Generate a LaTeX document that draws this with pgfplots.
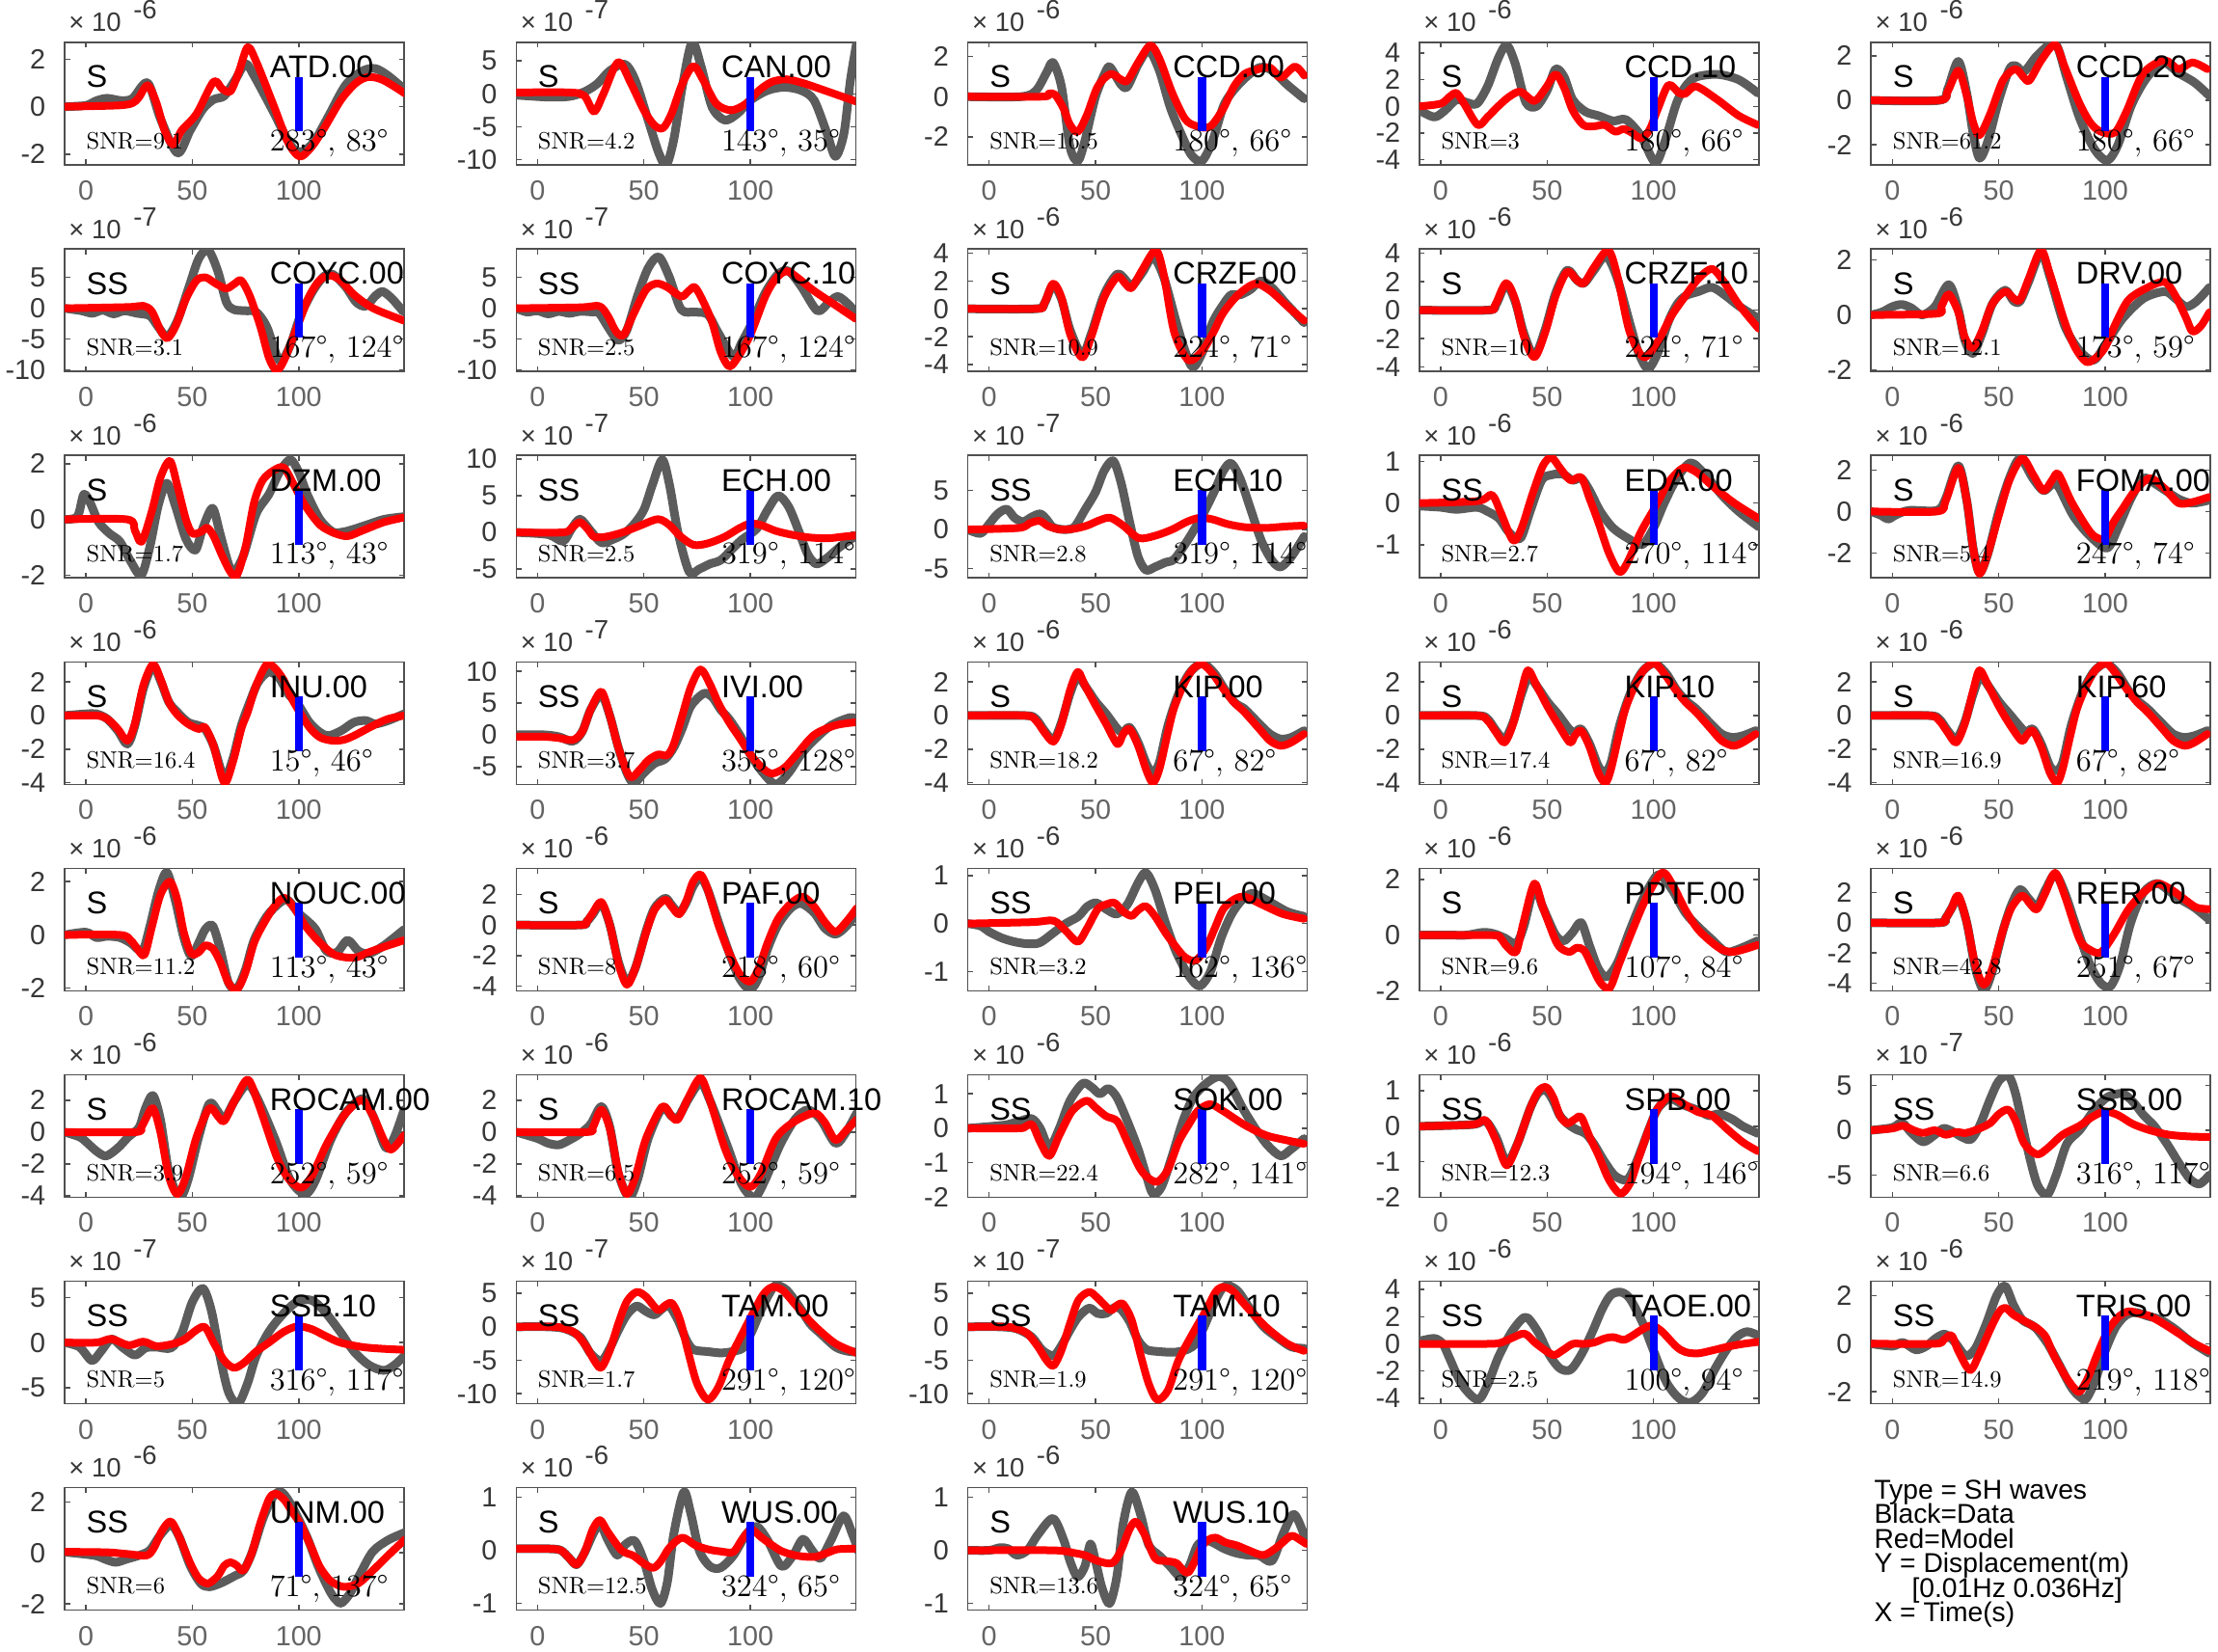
\documentclass[border=0pt]{standalone}
\usepackage{fontspec}
\usepackage{pgfplots}
\pgfplotsset{compat=1.18}
\newfontfamily\hv{Liberation Sans}
\definecolor{dgray}{RGB}{92,92,92}
\definecolor{axgray}{RGB}{80,80,80}
\definecolor{tkgray}{RGB}{55,55,55}
\definecolor{xtgray}{RGB}{100,100,100}

\pgfplotsset{
  panel/.style={
    scale only axis, width=140.8pt, height=50.8pt,
    xmin=-10, xmax=149.5, xtick={0,50,100},
    axis line style={axgray, line width=0.6pt},
    tick style={axgray, line width=0.6pt},
    major tick length=2.2pt, tick align=inside,
    xtick pos=both, ytick pos=both,
    clip mode=individual,
    ticklabel style={font=\hv\fontsize{11.5}{12}\selectfont},
    yticklabel style={xshift=-4.4pt, text=tkgray},
    xticklabel style={yshift=-3pt, text=xtgray},
    /pgf/number format/assume math mode=true,
  },
  gr/.style={dgray, line width=3.6pt, smooth, line join=round, line cap=round, no markers},
  rd/.style={red, line width=3.2pt, smooth, line join=round, line cap=round, no markers},
}

% phase, station, SNR, azimuth, distance
\newcommand\labs[5]{%
  \node[anchor=base west, inner sep=0, font=\hv\fontsize{13}{14}\selectfont] at (rel axis cs:0.063,0.63) {#1};
  \node[anchor=base west, inner sep=0, font=\hv\fontsize{13}{14}\selectfont] at (rel axis cs:0.603,0.71) {#2};
  \node[anchor=base west, inner sep=0, font=\fontsize{9.8}{10}\selectfont] at (rel axis cs:0.063,0.133) {SNR=#3};
  \node[anchor=base west, inner sep=0, font=\fontsize{13}{14}\selectfont] at (rel axis cs:0.603,0.112) {#4°, #5°};
}

% col, row, ymin, ymax, yticks, exponent, {labels}, gray data, red model
\newcommand\panel[9]{%
  \pgfmathsetmacro\px{26.8+187.32*#1}%
  \pgfmathsetmacro\py{-17.6-85.64*#2}%
  \pgfmathsetmacro\blo{#3+0.273*(#4-#3)}%
  \pgfmathsetmacro\bhi{#3+0.72*(#4-#3)}%
  \edef\bluebar{\noexpand\addplot[blue, line width=3.3pt, no markers] coordinates {(100,\blo) (100,\bhi)};}%
  \begin{axis}[panel, at={(\px pt,\py pt)}, anchor=north west, ymin=#3, ymax=#4, ytick={#5}]
    \addplot[gr] coordinates {#8};
    \addplot[rd] coordinates {#9};
    \bluebar
    \labs#7
    \node[anchor=base west, inner sep=0, xshift=1.6pt, yshift=4.4pt, text=tkgray,
          font=\hv\fontsize{11}{12}\selectfont] at (rel axis cs:0,1)
          {×\ 10\hspace{5pt}\raisebox{5.2pt}{-#6}};
  \end{axis}}

\begin{document}
\begin{tikzpicture}
\useasboundingbox (0,0) rectangle (920pt,-684.8pt);

% ---- row 1
\panel{0}{0}{-2.45}{2.7}{-2,0,2}{6}{{S}{ATD.00}{9.1}{283}{83}}
{(-10,0)(0,0.05)(5,0.25)(10,0.35)(17,0.25)(22,0.35)(29,1.0)(35,-0.5)(43,-1.95)(49,-1.0)(55,-0.1)(60,0.3)(65,0.45)(70,1.1)(75,1.8)(79,1.3)(88,-0.2)(96,-1.6)(101,-1.9)(107,-1.5)(114,-0.4)(122,0.9)(130,1.5)(136,1.6)(142,1.3)(150,0.7)}
{(-10,0)(15,0.05)(22,0.15)(25,0.4)(29,0.9)(33,0.2)(37,-1.0)(41,-1.6)(45,-1.0)(52,-0.3)(60,1.05)(64,0.75)(68,0.65)(72,1.5)(76,2.5)(80,1.9)(88,0.1)(95,-1.5)(100.5,-2.1)(106,-1.7)(112,-0.9)(120,0.3)(127,1.0)(133,1.25)(140,1.1)(150,0.55)}

\panel{1}{0}{-10.8}{7.8}{-10,-5,0,5}{7}{{S}{CAN.00}{4.2}{143}{35}}
{(-10,-0.2)(5,-0.5)(15,-0.4)(22,0.3)(28,1.5)(34,3.5)(41,4.5)(46,2)(52,-4)(57,-9)(60.5,-10.8)(64,-7)(68,1)(72.6,7.8)(77,4)(82,-2)(88,-4)(94,-3)(100,-1)(108,0.5)(116,1)(124,0.5)(130,-1)(136,-6)(140,-9.5)(144,-6)(147,2)(150,7.8)}
{(-10,0.2)(15,0.2)(22,-0.3)(26.6,-2.7)(31,0)(37.9,4.8)(44,1.5)(50,-2.5)(55,-4.8)(59,-5.2)(63,-3)(68,1.5)(73.3,4.2)(78,2)(84,-1.5)(91,-2.5)(98,-1.5)(104,0.5)(110,1.8)(117,2.2)(125,1.6)(135,0.5)(150,-1.2)}

\panel{2}{0}{-3.4}{2.7}{-2,0,2}{6}{{S}{CCD.00}{16.5}{180}{66}}
{(-10,0)(15,0)(22,0.3)(27,1.2)(30,1.7)(34,0.5)(38,-2.5)(41.7,-3.2)(45,-2.2)(50,0)(55,1.3)(57,1.45)(62,0.6)(65,0.5)(70,1.6)(75,2.3)(80,1.3)(85,-0.5)(90,-1.8)(95,-2.9)(100,-3.2)(105,-2.2)(110,-0.5)(114,0.2)(120,0.9)(127,1.45)(133,1.3)(140,0.6)(148,-0.1)}
{(-10,0)(25,0)(28,0.15)(31,0.1)(35,-0.6)(38,-1.4)(41.7,-1.75)(46,-0.9)(51,0.5)(57,1.13)(62,0.85)(65,0.8)(70,1.7)(75.7,2.55)(80,1.9)(86,0.2)(92,-1.1)(97,-1.45)(103.7,-1.5)(110,-0.6)(115,0.5)(120,1.13)(126,1.35)(132,1.45)(137,0.95)(143.7,1.5)(148,1.05)}

\panel{3}{0}{-4.4}{4.8}{-4,-2,0,2,4}{6}{{S}{CCD.10}{3}{180}{66}}
{(-10,-0.3)(-3,-0.8)(2,-0.3)(7.4,0.5)(12,0.3)(17,0.2)(22,1.5)(27,3.6)(31,4.6)(35,3.2)(40,0.3)(45,0)(50,1.2)(54,2.8)(58,2.2)(62,0.5)(68,-0.4)(74,-0.7)(81,-1.1)(87,-1.0)(94,-2.2)(100.7,-4.2)(105,-2.8)(110.7,0.2)(115,1.5)(120,2.2)(130,2.4)(140,2.0)(149,1.0)}
{(-10,0)(0,0.2)(4,0.7)(7.4,1.0)(11,0.2)(17.4,-1.4)(22,-0.8)(27,0)(32,0.7)(37.4,1.1)(44,0.4)(49,1.3)(54,2.4)(58,1.4)(62,-0.3)(67,-1.4)(72,-1.5)(77,-1.4)(82,-1.9)(86,-1.7)(90,-2.0)(94,-2.4)(98,-1.8)(102,-0.2)(107,1.6)(112,1.0)(115,0.95)(120,1.5)(130,0.5)(140,-0.7)(149,-1.4)}

\panel{4}{0}{-2.9}{2.6}{-2,0,2}{6}{{S}{CCD.20}{61.2}{180}{66}}
{(-10,0)(22,0)(26,0.5)(31,1.75)(35,0.3)(38,-1.5)(41,-2.6)(45,-1.8)(50,0)(55,1.4)(58,1.55)(62,1.3)(68,2.0)(76.5,2.55)(82,1.0)(88,-0.8)(95,-2.2)(101,-2.7)(106,-2.0)(112,-0.3)(118,0.8)(124,1.5)(128,1.7)(135,1.2)(142,0.8)(149,0.2)}
{(-10,0)(22,0)(26,0.4)(31,1.33)(35,0.2)(38,-1.0)(41,-1.56)(46,-0.6)(52,0.9)(57.8,1.4)(62,1.0)(64.5,0.9)(70,1.8)(76.5,2.5)(81,1.5)(87.8,-0.1)(93,-1.0)(97.8,-1.4)(104.5,-1.45)(110,-0.5)(117.8,1.2)(127.8,1.8)(134.5,1.4)(141,1.7)(148,1.4)}

% ---- row 2
\panel{0}{1}{-10.2}{9.6}{-10,-5,0,5}{7}{{SS}{COYC.00}{3.1}{167}{124}}
{(-10,0)(-2,-0.4)(3,-0.8)(8,-0.3)(13,-0.9)(18,-0.4)(24,-0.8)(30,-1.2)(34,-3)(38.2,-4.6)(43,-2)(48,3)(53,8)(57.5,9.4)(62,6)(66,1)(69.5,-0.2)(75,-0.4)(80,-0.6)(85,-3)(91,-8.5)(96,-6)(101,-1)(107,3)(112,5.2)(116,5.5)(122,3.5)(127,1.0)(131.5,0.35)(136,2)(139.5,2.7)(144,1.5)(149,-0.5)}
{(-10,0)(20,0.2)(27,0.4)(31,-0.5)(35,-3.5)(38.2,-4.85)(42,-3)(47,1.5)(52,4.5)(56.2,5.0)(61,4.0)(66,3.2)(70,4.0)(73,4.5)(77,2)(82,-3)(86,-8)(89.5,-10)(93,-8.5)(99.5,-2.8)(105,2)(110,4.6)(115,5.3)(120,4.4)(126,2.2)(135,0)(149.5,-2)}

\panel{1}{1}{-10.2}{9.6}{-10,-5,0,5}{7}{{SS}{COYC.10}{2.5}{167}{124}}
{(-10,0)(-5,-0.6)(0,-0.4)(5,-0.9)(10,-0.5)(15,-0.8)(20,-0.5)(26,-0.6)(29,-0.8)(34,-3.5)(38,-5.2)(42,-3.5)(47,2)(52,6.5)(57,8.3)(62,5)(67.5,-0.2)(74,-0.6)(80,-1)(85,-4)(92,-7.8)(96,-5.5)(101,-2.2)(107,2.5)(113,5.5)(118,6.0)(124,3.5)(131.5,-0.4)(137,1)(141,1.9)(145,1.0)(149.5,-0.6)}
{(-10,0)(20,0.15)(29,0.35)(33,-1.2)(37,-3.8)(40.5,-4.3)(45,-1)(51,3)(56,4.0)(61,3.4)(67.5,1.9)(71,2.8)(74,3.4)(78,1)(82,-2.2)(86,-7)(90,-9.4)(94,-8)(100,-4.3)(107,1.9)(112,4.8)(117,6.0)(122,5.0)(129.6,2.9)(140,0.5)(149.5,-1.7)}

\panel{2}{1}{-4.5}{4.3}{-4,-2,0,2,4}{6}{{S}{CRZF.00}{10.9}{224}{71}}
{(-10,0)(22,0)(26,0.4)(30,1.7)(34,0.7)(38,-1.5)(43.7,-3.3)(48,-1.8)(54,1.0)(60.3,2.5)(65,1.9)(67,1.6)(72,2.6)(77,3.7)(82,2.3)(88,-1.0)(92,-3.0)(95.7,-4.2)(100,-3.2)(105,-1.0)(110,0.3)(113.7,1.0)(118,1.0)(123,1.4)(127.7,2.0)(133,1.5)(140,0.3)(148,-1.0)}
{(-10,0)(22,0)(25.7,0.3)(30,1.8)(34,0.8)(38,-1.8)(43.7,-3.5)(48,-2)(54,0.8)(60.3,2.3)(64,1.8)(67,1.5)(72,2.8)(78.3,4.2)(82,2.5)(87,-1.7)(93.7,-3.7)(100.3,-3.0)(105,-1.8)(110,-0.3)(117,1.0)(125,1.8)(132,1.3)(140,0.2)(148,-0.85)}

\panel{3}{1}{-4.3}{4.3}{-4,-2,0,2,4}{6}{{S}{CRZF.10}{10}{224}{71}}
{(-10,0)(22,0)(26,0.4)(30.7,1.8)(35,0.6)(39,-1.6)(44,-3.2)(49,-1.4)(54,1.2)(59.4,2.8)(64,2.1)(67.4,1.9)(72,2.8)(77.7,3.8)(83,2.2)(89,-1.0)(93,-3.0)(97.4,-4.1)(102,-3.0)(107,-0.8)(111,0.4)(115,1.0)(121,1.3)(127.5,1.6)(134,1.0)(140,0.3)(149.4,-0.6)}
{(-10,0)(22,0)(25.4,0.3)(30.7,1.9)(35,0.7)(39,-1.8)(44,-3.3)(49,-1.6)(54,1.0)(59.4,2.7)(64,2.1)(67.4,1.9)(72,3.0)(78.7,4.2)(83,2.4)(88.7,-1.5)(95.4,-3.3)(102,-2.2)(108,-0.5)(114,0.8)(121,2.2)(127.5,2.9)(133,2.0)(140,0.4)(149.4,-1.3)}

\panel{4}{1}{-2.05}{2.4}{-2,0,2}{6}{{S}{DRV.00}{12.1}{173}{59}}
{(-10,0)(-5,0.1)(0,0.3)(4.5,0.38)(9,0.25)(14,0.0)(20,0.3)(26.5,1.1)(31,0.2)(34,-0.9)(37.8,-1.4)(42,-0.7)(47,0.4)(53,0.9)(57,0.5)(60,0.5)(64,1.2)(69.8,2.25)(74,1.4)(81,-0.4)(88,-1.3)(94.5,-1.65)(100,-1.1)(108,-0.15)(118,0.6)(128,0.85)(133,0.6)(138,0.3)(143,0.5)(149,1.0)}
{(-10,0)(21,0.05)(23,0.3)(26.5,0.75)(31,0.1)(34,-0.8)(37.8,-1.2)(42,-0.6)(47,0.4)(53,0.85)(57,0.6)(60,0.55)(64,1.3)(69.8,2.35)(74,1.5)(81,-0.26)(86,-1.2)(91,-1.7)(95,-1.6)(99.8,-1.2)(105,-0.3)(111,0.55)(120,1.0)(128,1.2)(133,0.7)(138,-0.1)(141,-0.6)(145,-0.4)(149,0.1)}

% ---- row 3
\panel{0}{2}{-2.1}{2.3}{-2,0,2}{6}{{S}{DZM.00}{1.7}{113}{43}}
{(-10,0)(-4,0.1)(-1,0.9)(2,0.6)(6,-0.1)(11,-0.5)(16,-0.8)(21,-1.5)(26,-2.0)(30,-1.0)(34,0.5)(38,1.3)(42,0.5)(47,-0.7)(51.5,-1.1)(55,-0.3)(59.5,0.4)(63,-0.5)(67,-1.6)(69.5,-1.9)(74,-1.3)(80,0.2)(86,0.9)(91,1.7)(96,2.15)(100,1.7)(104,0.9)(110,0.0)(116,-0.45)(121,-0.45)(126,-0.35)(132,-0.2)(140,0.0)(149.5,0.1)}
{(-10,0)(19.5,0)(23,-0.4)(26.2,-0.8)(31,0.3)(35,1.5)(39.5,2.1)(43,1.2)(47,0.0)(50,-0.5)(54,-0.45)(57,-0.3)(60,-0.6)(64,-1.3)(68,-1.9)(71,-2.0)(75,-1.0)(79,0.6)(83,1.4)(88,1.75)(93,1.86)(98,1.2)(103,0.5)(110,-0.2)(117,-0.5)(123,-0.6)(130,-0.4)(140,-0.1)(149.5,0.07)}

\panel{1}{2}{-6.2}{10.5}{-5,0,5,10}{7}{{SS}{ECH.00}{2.5}{319}{114}}
{(-10,0)(5,-0.3)(12,-1.2)(16,0.5)(20,1.8)(25,0.2)(30,-1.4)(35,-1.0)(40,-0.3)(45,1.0)(50,3.1)(54,6.5)(58.6,9.9)(62,6.5)(66,0)(71.3,-5.4)(76,-5.0)(81,-4.3)(86,-3.8)(91,-2.4)(96,-1.0)(103,0.5)(108,3.0)(113,5.0)(118,3.5)(123,0)(127,-3)(131,-4.3)(136,-3.5)(142,-2.0)(150,-0.4)}
{(-10,0)(12,0)(16,0.6)(20,1.4)(24,0.3)(26.6,-0.6)(32,-0.6)(40,0)(48,0.9)(56.6,1.8)(62,1.0)(67,-0.5)(73.3,-1.7)(80,-1.5)(88,-0.6)(95,0.6)(100,1.2)(105,1.0)(112,0.2)(120,-0.35)(128,-0.7)(136.6,-0.8)(143,-0.6)(150,-0.4)}

\panel{2}{2}{-6.2}{9.5}{-5,0,5}{7}{{SS}{ECH.10}{2.8}{319}{114}}
{(-10,0)(-4,-0.5)(0,0.7)(4,2.0)(8.3,2.6)(12,1.5)(16,1.0)(20,1.6)(24,2.0)(27,1.3)(30,0.3)(35,0.0)(40,0.3)(45,2.5)(50,4.8)(54,7.5)(58.3,8.8)(62,6)(66,1)(70,-3.5)(73.7,-5.2)(78,-4.8)(83,-4.2)(87,-3.8)(93,-1.5)(100,1.7)(106,5)(110,7.5)(113.7,8.5)(118,6.5)(123,2.5)(128,-1.5)(133,-4.0)(137,-4.8)(142,-3.5)(148,-0.9)}
{(-10,0)(14,0.2)(19,0.8)(23.7,1.1)(28,0.4)(33.7,0)(40,0.1)(46,0.5)(52,1.2)(57,1.5)(63,0.5)(70.3,-1.1)(78,-0.8)(86,0)(93,1.0)(99,1.5)(105,1.3)(112,0.7)(120,0.3)(130,0.2)(140,0.4)(148,0.5)}

\panel{3}{2}{-1.8}{1.15}{-1,0,1}{6}{{SS}{EDA.00}{2.7}{270}{114}}
{(-10,-0.07)(0,-0.1)(7.4,-0.15)(17,-0.1)(22,-0.2)(27.4,-0.37)(32,-0.7)(37.4,-0.85)(42,-0.2)(47.4,0.55)(52,0.68)(57.4,0.7)(62,0.55)(66,0.6)(70,0.3)(75,-0.2)(81,-0.6)(88,-0.85)(94.7,-1.0)(100,-0.6)(105,0.0)(111,0.6)(117.4,0.97)(124,0.7)(132,0.2)(140,-0.2)(149.4,-0.57)}
{(-10,0)(17.4,0.05)(24,0.2)(28,-0.2)(34,-0.9)(38,-0.6)(43,0.2)(48,0.9)(52,1.1)(56,0.85)(61,0.55)(66,0.62)(70,0.1)(74,-0.45)(79,-1.2)(84,-1.66)(88,-1.4)(94,-0.7)(101,-0.07)(107,0.5)(114,0.85)(120,0.75)(128,0.4)(138,0.0)(149.4,-0.37)}

\panel{4}{2}{-3.2}{2.7}{-2,0,2}{6}{{S}{FOMA.00}{5.4}{247}{74}}
{(-10,0)(-5,-0.2)(-2,-0.37)(2,-0.15)(8,0.05)(21,0.05)(25,0.6)(31,2.2)(35,0.5)(38,-1.8)(41,-2.95)(45,-2.0)(50,0)(55,1.6)(60,2.55)(66,1.6)(71,1.0)(75,1.3)(78,1.2)(85,-0.2)(93,-1.2)(101,-1.76)(106,-0.8)(112,0.6)(118,1.6)(124,1.3)(134.5,0.6)(141,0.4)(149,0.55)}
{(-10,0)(21,0)(25,0.5)(31,2.1)(35,0.5)(38,-1.8)(41,-3.0)(45,-2.0)(50,-0.2)(55,1.5)(61,2.55)(66,1.8)(71,1.0)(75,1.5)(78,1.8)(84,0.5)(91,-0.7)(95,-1.2)(99.8,-1.3)(104,-0.5)(108,0.1)(114,1.0)(121,1.6)(128,1.1)(134.5,0.4)(141,0.45)(149,0.7)}

% ---- row 4
\panel{0}{3}{-4.1}{3.2}{-4,-2,0,2}{6}{{S}{INU.00}{16.4}{15}{46}}
{(-10,0)(0,0.1)(5,0.1)(10,-0.2)(15,-0.9)(19.5,-1.7)(23,-0.6)(27,1.6)(31.5,2.95)(35,2.1)(39,0.8)(43,0.2)(48,-0.4)(53,-0.6)(56,-0.8)(60,-1.8)(65,-3.7)(69,-2.6)(73,-0.6)(77,0.8)(81,2.0)(86,2.6)(91,2.2)(95,1.3)(99.5,0.7)(105,-0.4)(110,-1.0)(114,-1.2)(120,-0.9)(126,-0.4)(131.5,-0.3)(136,-0.5)(142,-0.3)(149.5,0.1)}
{(-10,0)(5,0)(10,-0.2)(15,-0.8)(19.5,-1.5)(23,-0.5)(27,1.8)(31.5,3.05)(35,2.2)(39,0.8)(43,0.05)(48,-0.5)(53,-0.8)(56,-0.7)(60,-1.8)(65,-4.0)(69,-2.8)(73,-0.8)(76,0.2)(80,1.8)(85,3.05)(89,2.8)(93,2.1)(96,1.2)(99.5,0.4)(105,-0.7)(110,-1.3)(116,-1.5)(121,-1.45)(126,-1.2)(135,-0.6)(142,-0.2)(149.5,0)}

\panel{1}{3}{-7.8}{11.5}{-5,0,5,10}{7}{{SS}{IVI.00}{3.7}{355}{128}}
{(-10,0)(3,0)(10,-0.3)(16.6,-1.0)(21,0.5)(25,4)(30,6.3)(34,3)(38,-2)(42,-6)(45.3,-7.6)(50,-6)(55,-4.5)(60,-3.8)(64,-2)(68,1)(72,4.5)(78,6.5)(82,6)(86,4)(90,2.5)(95,0)(100,-3.1)(106,-6)(112,-7.8)(118,-6)(124,-3)(130,-0.8)(138,1.5)(146.6,2.7)(150,2.5)}
{(-10,-0.3)(3,-0.3)(10,-0.5)(16.6,-0.8)(21,0.5)(25,4)(30,6.8)(34,3)(38,-2)(43.3,-6.6)(48,-5.5)(52,-4)(56.6,-3.1)(61,-3.2)(64,-1.5)(68,3)(72,7.5)(76.6,10.3)(81,8)(85,5)(90,2.0)(95,-0.5)(100,-3.1)(105,-5)(110,-6.1)(116,-5.2)(122,-3.0)(130,0)(140,1.5)(150,2.0)}

\panel{2}{3}{-4.1}{3.2}{-4,-2,0,2}{6}{{S}{KIP.00}{18.2}{67}{82}}
{(-10,0)(17,0)(22,-0.2)(26,-0.9)(30.3,-1.45)(34,-0.4)(38,1.3)(41.7,2.3)(46,1.6)(50.3,0.8)(55,0.1)(60.3,-0.8)(63,-1.0)(66,-0.7)(70,-1.6)(74,-2.9)(77,-3.4)(80,-2.8)(84,-0.6)(89,1.3)(94,2.5)(98,3.0)(101,3.1)(106,2.5)(111,1.5)(116,0.7)(120,0.4)(127,-0.5)(132,-1.1)(137,-1.4)(142,-1.3)(148,-0.9)}
{(-10,0)(17,0)(22,-0.3)(26,-1.0)(30.3,-1.55)(34,-0.5)(38,1.5)(41.7,2.6)(45,1.8)(50.3,0.55)(55,-0.5)(60.3,-1.7)(63,-1.1)(66,-0.8)(70,-1.8)(74,-3.3)(77,-4.0)(80,-3.2)(84,-1.0)(87,0.5)(92,2.0)(96,2.8)(100.3,3.05)(105,2.5)(110,1.6)(115,0.8)(120,0.2)(127,-0.8)(132,-1.5)(137,-1.8)(142,-1.6)(148,-1.1)}

\panel{3}{3}{-4.1}{3.2}{-4,-2,0,2}{6}{{S}{KIP.10}{17.4}{67}{82}}
{(-10,0)(17,0)(22,-0.2)(26,-0.9)(30,-1.4)(34,-0.4)(38,1.3)(41.5,2.3)(46,1.6)(50.3,0.8)(55,0.1)(60.3,-0.8)(63,-1.0)(66,-0.8)(70,-1.7)(74,-3.0)(77,-3.4)(80,-2.8)(84,-0.6)(89,1.3)(94,2.5)(98,3.0)(101,3.1)(106,2.5)(111,1.5)(116,0.8)(120,0.4)(127,-0.5)(132,-1.1)(137,-1.3)(142,-1.2)(148,-0.9)}
{(-10,0)(17,0)(22,-0.3)(26,-1.0)(30,-1.6)(34,-0.5)(38,1.5)(41,2.7)(45,1.8)(50.3,0.5)(55,-0.5)(60.7,-1.6)(63,-1.2)(66,-0.9)(70,-1.9)(74,-3.4)(77.4,-4.0)(80,-3.2)(84,-1.0)(87,0.5)(92,2.0)(96,2.8)(100.7,3.1)(105,2.5)(110,1.6)(115,0.8)(120,0.2)(127,-0.8)(132,-1.5)(137.4,-1.8)(142,-1.6)(148,-1.1)}

\panel{4}{3}{-4.1}{3.2}{-4,-2,0,2}{6}{{S}{KIP.60}{16.9}{67}{82}}
{(-10,0)(17,0)(22,-0.2)(26,-0.9)(30,-1.4)(34,-0.4)(38,1.3)(41.5,2.3)(46,1.6)(50.3,0.8)(55,0.1)(60.3,-0.7)(63,-1.0)(66,-0.8)(70,-1.7)(74,-3.0)(77,-3.3)(80,-2.8)(84,-0.6)(89,1.3)(94,2.5)(98,3.0)(101,3.1)(106,2.5)(111,1.5)(116,0.8)(120,0.4)(127,-0.5)(132,-1.1)(137,-1.3)(142,-1.2)(148,-0.9)}
{(-10,0)(17,0)(22,-0.3)(26,-1.0)(30,-1.6)(34,-0.5)(38,1.5)(41,2.7)(45,1.8)(50.3,0.5)(55,-0.5)(60.7,-1.5)(63,-1.2)(66,-0.9)(70,-1.9)(74,-3.4)(77.4,-4.0)(80,-3.2)(84,-1.0)(87,0.5)(92,2.0)(96,2.8)(100.7,3.1)(105,2.5)(110,1.6)(115,0.8)(120,0.2)(127,-0.8)(132,-1.5)(137.4,-1.8)(142,-1.6)(148,-1.1)}

% ---- row 5
\panel{0}{4}{-2.1}{2.5}{-2,0,2}{6}{{S}{NOUC.00}{11.2}{113}{43}}
{(-10,0)(0,0.1)(5,-0.1)(10,-0.05)(16,-0.1)(21,-0.3)(26.5,-0.6)(30,0.3)(34,1.6)(38,2.35)(42,1.3)(46,-0.1)(49.5,-0.8)(53,-0.3)(56,0.2)(59.5,0.35)(63,-0.5)(67,-1.8)(71,-2.0)(75,-1.3)(79,-0.2)(85,0.7)(91,1.2)(95,1.3)(100,0.8)(103,0.6)(108,0.2)(113,-0.6)(118,-0.65)(123,-0.2)(128,-0.6)(133,-0.7)(140,-0.4)(149.5,0.2)}
{(-10,0)(16,0)(21,-0.2)(24,-0.5)(27.5,-0.75)(31,0.3)(35,1.5)(39.5,2.0)(43,1.3)(46,0.1)(49.5,-0.7)(53,-0.65)(56,-0.4)(59.5,-0.5)(63,-1.0)(67,-1.8)(71,-2.05)(75,-1.4)(79,-0.3)(83,0.35)(88,1.0)(93,1.4)(98,1.0)(103,0.35)(110,-0.3)(117,-0.75)(126,-0.86)(133,-0.65)(140,-0.45)(149.5,-0.2)}

\panel{1}{4}{-4.3}{3.7}{-4,-2,0,2}{6}{{S}{PAF.00}{8}{218}{60}}
{(-10,0)(20,0)(23,0.2)(26,0.7)(30,1.4)(34,0)(38,-2.4)(42,-3.7)(46,-2.8)(51,-0.4)(55,1.1)(60,1.75)(63,1.3)(66.6,0.8)(70,1.5)(73,2.5)(76.6,3.1)(80,2.3)(85,0.2)(90,-1.8)(95,-3.5)(100,-4.2)(104,-3.4)(108,-1.6)(113,0)(119,1.1)(124,1.4)(130,0.8)(135,-0.2)(140,-0.6)(145,-0.1)(150,0.8)}
{(-10,0)(20,0)(23,0.2)(26,0.8)(30,1.5)(34,0)(38,-2.5)(42,-3.9)(46,-2.8)(51,-0.5)(55,1.0)(60,1.65)(63,1.2)(66.6,0.7)(70,1.6)(73,2.8)(76.6,3.3)(80,2.3)(85,0)(90,-1.8)(95,-3.2)(100,-3.7)(104,-2.8)(108,-1.2)(113,0.4)(119,1.4)(124.6,1.85)(130,1.2)(135,0.2)(140,-0.45)(145,0.2)(150,1.1)}

\panel{2}{4}{-1.4}{1.15}{-1,0,1}{6}{{SS}{PEL.00}{3.2}{162}{136}}
{(-10,0)(-4,-0.05)(0,-0.17)(6,-0.3)(12,-0.38)(18,-0.42)(23.7,-0.4)(30,-0.2)(36,0.0)(42,0.15)(46,0.35)(50.3,0.43)(55,0.3)(60,0.2)(65,0.4)(70,0.85)(73.7,1.06)(78,0.7)(83,0)(88,-0.6)(94,-1.1)(99,-1.3)(104,-1.0)(109,-0.3)(114,0.2)(119,0.5)(123.7,0.63)(130,0.5)(140,0.25)(148,0.15)}
{(-10,0)(20,0.03)(30.3,0.06)(36,-0.15)(41.7,-0.38)(46,-0.1)(51,0.3)(55,0.4)(59,0.43)(63,0.25)(67,0.16)(70,0.28)(73.7,0.36)(78,0.15)(83,-0.2)(87,-0.44)(92,-0.7)(97,-0.77)(102,-0.5)(106,-0.1)(110,0.3)(115,0.5)(120,0.56)(128,0.4)(138,0.2)(148,0.1)}

\panel{3}{4}{-2.0}{2.4}{-2,0,2}{6}{{S}{PPTF.00}{9.6}{107}{84}}
{(-10,0)(5,0.0)(12,0.0)(20,0.1)(25,0.05)(30,-0.1)(35.4,-0.3)(39,0.3)(44,1.7)(48,1.0)(54,0.0)(58,-0.2)(62,0.1)(66,0.45)(70,-0.4)(74,-1.2)(78,-1.5)(83,-1.0)(89,0.2)(95,1.3)(101,2.1)(104,2.1)(109,1.6)(115,0.8)(121,0.3)(128,-0.2)(134,-0.6)(140,-0.5)(149,-0.2)}
{(-10,0)(24,0)(28,-0.1)(31,-0.4)(35.4,-0.6)(39,0.5)(44,1.85)(48,1.0)(54,-0.2)(57,-0.5)(60.7,-0.6)(64,-0.45)(67.4,-0.55)(71,-1.1)(75,-1.7)(79.4,-1.9)(84,-1.0)(91,0.35)(97,1.4)(104,2.25)(109,1.8)(115,0.9)(121,0.2)(128,-0.3)(133,-0.55)(137.4,-0.6)(143,-0.5)(149,-0.35)}

\panel{4}{4}{-4.5}{3.6}{-4,-2,0,2}{6}{{S}{RER.00}{42.8}{251}{67}}
{(-10,0)(22,0)(25,0.3)(28,1.0)(31,1.7)(35,0)(39,-3.0)(43,-4.45)(47,-3.2)(52,-0.5)(56,1.2)(60,2.2)(64,1.6)(68,1.1)(72,2.2)(76.5,3.2)(81,2.0)(87,-0.5)(93,-2.8)(98,-4.0)(102.5,-4.2)(107,-2.8)(112,0)(118,2.0)(124.5,2.6)(131,2.0)(136,1.5)(142,1.0)(149,0.2)}
{(-10,0)(22,0)(25,0.3)(28,1.0)(31,1.8)(35,0)(39,-2.8)(43,-4.1)(47,-3.0)(52,-0.5)(56,1.0)(61,1.8)(65,1.2)(68,0.9)(72,2.0)(76.5,3.3)(81,1.8)(88,-1.1)(93,-1.8)(98,-1.95)(104,-0.8)(111,0.9)(118,2.0)(124.5,2.6)(131,2.2)(137.8,1.5)(143,1.0)(149,0.9)}

% ---- row 6
\panel{0}{5}{-4.1}{3.6}{-4,-2,0,2}{6}{{S}{ROCAM.00}{3.9}{252}{59}}
{(-10,0)(-3,-0.3)(0,-0.6)(5,-1.2)(9.5,-1.5)(15,-1.0)(20,-0.3)(25,0.3)(28,1.5)(31.5,2.3)(35,0.8)(39,-2.5)(44,-4.1)(48,-3.0)(53,-0.3)(58,1.8)(62,1.3)(65,0.8)(70,2.0)(76,3.0)(81,2.0)(89,-0.5)(96,-3.0)(103,-3.9)(108,-3.0)(115,-0.5)(122,1.2)(130,2.1)(135,1.0)(141,-1.0)(145,-0.3)(149.5,1.4)}
{(-10,0)(23,0)(26,0.3)(28,0.8)(31.5,1.5)(35,0)(39,-2.8)(43,-3.9)(47,-2.8)(52,-0.3)(58,1.5)(62,1.0)(65,0.7)(70,2.0)(76,3.3)(81,1.8)(89.5,-1.5)(95,-2.9)(101,-3.5)(106,-2.8)(113,-0.8)(120,0.8)(125,1.6)(130,2.0)(135,1.0)(140,-0.5)(143,-1.1)(146,-0.8)(149.5,-0.2)}

\panel{1}{5}{-4.1}{3.6}{-4,-2,0,2}{6}{{S}{ROCAM.10}{6.5}{252}{59}}
{(-10,0)(0,-0.4)(5,-0.7)(10,-0.8)(15,-0.5)(20,-0.1)(25,0.5)(30,1.6)(34,0.3)(38,-2.6)(43,-4.1)(47,-3.0)(52,-0.4)(58.6,1.5)(63,1.0)(66,0.9)(71,2.1)(76.6,3.1)(81,2.0)(89,-0.8)(96,-3.3)(102,-4.1)(107,-3.0)(114,-0.8)(121,0.8)(127,1.4)(133,0.8)(140,-0.7)(145,0.0)(150,1.2)}
{(-10,0)(23,0)(26,0.3)(30,1.4)(34,0.2)(38,-2.5)(42,-3.9)(46,-2.8)(51,-0.4)(58.6,1.6)(63,1.0)(66,0.8)(71,2.2)(76.6,3.4)(81,2.0)(88,-1.0)(94,-2.7)(100,-3.45)(105,-2.6)(112,-0.4)(120,0.6)(130,1.2)(135,0.6)(140,-0.5)(145,0.1)(150,0.8)}

\panel{2}{5}{-2.0}{1.55}{-2,-1,0,1}{6}{{SS}{SOK.00}{22.4}{282}{141}}
{(-10,0)(0,0.05)(8,0.1)(14,0.2)(20,0.28)(24,0)(28.3,-0.55)(33,0.0)(38,0.8)(44,1.3)(48,1.2)(52,1.0)(56,1.15)(60,0.9)(65,0.2)(70,-0.6)(74,-1.4)(77,-1.9)(81,-1.7)(86,-0.8)(91,0.2)(96,0.9)(102,1.3)(108,1.5)(113,1.3)(119,0.6)(125,0.0)(131,-0.5)(137,-0.8)(142,-0.6)(148,-0.3)}
{(-10,0)(14,0)(17,0.05)(20.3,0.1)(24,-0.4)(28.3,-0.8)(33,-0.2)(39,0.5)(45.7,0.8)(50,0.6)(55,0.35)(60.3,0.2)(65,-0.4)(70.3,-1.1)(74,-1.4)(79,-1.55)(84,-1.2)(89,-0.4)(93.7,0.1)(98,0.5)(103.7,0.7)(110,0.5)(120,0.1)(130,-0.2)(140,-0.35)(148,-0.45)}

\panel{3}{5}{-2.0}{1.45}{-2,-1,0,1}{6}{{SS}{SPB.00}{12.3}{194}{146}}
{(-10,0)(15,0.05)(21,0.15)(26,-0.3)(31,-1.0)(36,-0.5)(42,0.5)(46,0.95)(49.7,1.0)(53,0.7)(56,0.3)(60,0.05)(64,-0.1)(68,-0.2)(72,-0.5)(77,-1.0)(82,-1.4)(87.7,-1.5)(92,-1.0)(97.7,-0.1)(102,0.5)(107.7,0.78)(114,0.6)(121,0.45)(126,0.3)(131,0.35)(137,0.2)(142,0.0)(149,-0.2)}
{(-10,0)(15,0.05)(21,0.17)(26,-0.4)(31,-1.1)(36,-0.5)(42,0.5)(46,1.0)(49.7,1.1)(53,0.8)(56,0.3)(59.4,0.08)(63,0.2)(66,0.26)(70,-0.3)(74,-0.8)(79,-1.5)(84.4,-1.9)(89,-1.6)(93,-0.9)(97.7,-0.1)(102,0.5)(107.7,0.85)(115,0.6)(121,0.4)(127.4,0.3)(135,-0.1)(142,-0.45)(149,-0.7)}

\panel{4}{5}{-7.5}{6.2}{-5,0,5}{7}{{SS}{SSB.00}{6.6}{316}{117}}
{(-10,0)(0,0.3)(4.5,0.85)(9,-0.3)(14.5,-1.3)(20,-0.5)(24,0.2)(28,-0.1)(33,-0.8)(37,-1.0)(41,0.5)(46,3.5)(50,5.5)(54.5,6.1)(58,4)(63,-1.5)(68,-6)(72.8,-7.2)(77,-5)(82,-1.5)(88,0)(95,2.3)(101,3.7)(108,4.1)(113,3.2)(118,1.7)(123,0.5)(129,-1.5)(135,-3.8)(140,-5.5)(144.5,-6.0)(149,-5.0)}
{(-10,0)(0,0.2)(5,0.5)(10,0)(14.5,-0.3)(20,0)(25,-0.5)(30,-0.2)(34.5,-0.3)(40,0.1)(46,0.8)(50,1.8)(54.5,2.3)(58,1)(62,-1.5)(68,-2.7)(73,-2.0)(80,-0.5)(88,0.5)(94,1.5)(99.8,2.1)(106,1.7)(113,0.7)(121,0)(130,-0.5)(140,-0.7)(149,-0.75)}

% ---- row 7
\panel{0}{6}{-6.8}{6.8}{-5,0,5}{7}{{SS}{SSB.10}{5}{316}{117}}
{(-10,0)(-3,-0.5)(2.8,-2.0)(7,-1.0)(12,0.4)(17,-0.5)(23,-1.4)(28,-0.6)(33,-0.5)(40,-0.6)(45,1.0)(50,4.5)(55,6.0)(59,3.5)(63,-1.5)(67,-5.5)(71.5,-6.8)(76,-4.5)(80,-1.5)(86,1.2)(92,3.0)(99,4.5)(106,4.7)(112,3.5)(119.5,1.2)(126,-1.0)(133,-2.5)(140,-3.1)(145,-2.5)(149.5,-1.5)}
{(-10,0)(5,0)(12,0.4)(20,-0.3)(27,0.1)(33,-0.4)(40,-0.2)(46,0.3)(52,1.4)(56,1.7)(60,0)(65,-2.0)(69.5,-2.8)(74,-2.3)(80,-1.0)(86,0.0)(93,1.2)(99.5,1.8)(106,1.5)(112,0.8)(119.5,0)(130,-0.5)(140,-0.7)(149.5,-0.8)}

\panel{1}{6}{-11.5}{6.8}{-10,-5,0,5}{7}{{SS}{TAM.00}{1.7}{291}{120}}
{(-10,0)(5,0)(13,-0.3)(20,-1.5)(25,-4)(30,-5.1)(34,-3.2)(38,-0.5)(42,1.8)(46.6,3.1)(51,2.3)(55,1.8)(59,2.8)(62,3.1)(66,1.0)(70,-2.0)(73.3,-3.4)(80,-3.7)(86.6,-3.9)(93,-3.6)(97,-3.0)(101,-0.5)(105,2.5)(109,5.0)(112,6.2)(117,5.5)(123,3.0)(128,0.5)(133,-1.0)(140,-3.0)(145,-3.6)(150,-3.8)}
{(-10,0)(8,0)(13,-0.3)(18,-1.0)(23,-3)(27,-5.2)(30,-6.1)(34,-3.5)(38,0.5)(42,3.8)(46.6,5.2)(51,4.5)(56.6,2.5)(60,3.2)(63.3,3.5)(67,1)(71,-4)(75,-8.5)(80,-10.9)(85,-9)(90,-5)(96.6,-0.8)(102,2.5)(106,4.8)(110,5.9)(115,5.5)(122,3)(130,0.2)(140,-2.5)(150,-3.9)}

\panel{2}{6}{-11.5}{6.8}{-10,-5,0,5}{7}{{SS}{TAM.10}{1.9}{291}{120}}
{(-10,0)(5,0)(13,-0.3)(20,-1.5)(25,-3.5)(30.3,-4.3)(34,-2.8)(38,-0.5)(42,1.5)(47,2.8)(51,2.0)(55,2.0)(59,2.9)(62,2.6)(66,0.8)(70,-2.0)(74,-3.4)(80,-3.7)(87,-3.8)(93,-3.4)(97,-2.5)(101,0)(105,3)(109,5.5)(112,6.2)(117,5.3)(123,2.5)(129,0)(135,-1.5)(142,-3)(148,-3.2)}
{(-10,0)(8,0)(13,-0.3)(18,-1.0)(23,-3)(27,-5.0)(30.3,-5.8)(34,-3.5)(38,0.5)(42,4)(47,5.2)(51,4.3)(57,2.5)(60,3.2)(63,3.4)(67,1)(71,-4)(75,-8.5)(79,-10.9)(84,-9.5)(89,-5)(96,-0.8)(102,2.5)(106,5)(109,5.9)(114,5.5)(121,3)(130,0)(140,-2.5)(148,-3.6)}

\panel{3}{6}{-4.4}{4.6}{-4,-2,0,2,4}{6}{{SS}{TAOE.00}{2.5}{100}{94}}
{(-10,0.2)(-3,0.4)(1,0.0)(4,-1.0)(10,-3.0)(17.4,-4.1)(22,-3.0)(27,-1.0)(33,0.8)(38,1.8)(41,1.9)(46,0.8)(51,-0.8)(56,-1.8)(61,-1.9)(66,-0.8)(71,0.8)(76,2.6)(80,3.6)(84.7,3.8)(89,3.3)(95,1.5)(100,-0.5)(106,-2.8)(112,-4.0)(117.4,-4.3)(123,-3.6)(129,-1.8)(134,-0.5)(139,0.5)(144,0.9)(149.4,0.6)}
{(-10,0)(20,0)(27.4,0.05)(33,0.4)(39.4,0.75)(45,0.0)(52.7,-0.8)(57,-0.5)(62,0.0)(67,0.0)(72,0.1)(77,0.4)(81,0.5)(86,0.3)(90,0.6)(95,1.1)(99.4,1.35)(104,0.9)(110.7,-0.2)(115,-0.6)(120.7,-0.7)(127,-0.5)(135,-0.2)(142,0.0)(149.4,0.15)}

\panel{4}{6}{-2.5}{2.6}{-2,0,2}{6}{{SS}{TRIS.00}{14.9}{219}{118}}
{(-10,0)(0,-0.1)(5,0.05)(11,-0.25)(16,-0.1)(20,0.2)(24.5,0.4)(29,0.1)(34.5,-0.5)(39,-0.2)(44,0.8)(49,2.0)(53,2.4)(57,1.6)(61,1.0)(65,0.8)(68,0.6)(73,0.0)(78,-0.8)(84,-1.8)(88,-2.2)(91,-2.3)(95,-1.6)(100,-0.3)(105,0.7)(110,1.2)(114.5,1.3)(120,1.15)(126,1.0)(133,0.6)(140,0.1)(149,-0.4)}
{(-10,0)(20,0)(24,0.15)(27.8,0.35)(31,-0.3)(36.5,-1.1)(41,-0.4)(46,0.6)(50,1.3)(53,1.5)(57,1.2)(61,1.0)(65,0.8)(68,0.65)(72,0.3)(76,-0.5)(81,-1.3)(85,-1.8)(88,-2.0)(92,-1.4)(96,-0.5)(101,0.5)(106,1.1)(111,1.35)(116,1.25)(121,1.15)(128,0.8)(135,0.4)(142,0.0)(149,-0.3)}

% ---- row 8
\panel{0}{7}{-2.25}{2.55}{-2,0,2}{6}{{SS}{UNM.00}{6}{71}{137}}
{(-10,0.03)(4,-0.1)(9,-0.25)(14,-0.37)(19,-0.25)(25,-0.1)(30,0.1)(35,0.7)(40,1.1)(44,0.6)(49,-0.5)(54,-1.2)(58,-1.33)(63,-1.2)(66,-1.08)(70,-0.9)(74,-0.7)(78,0.0)(83,1.3)(88,2.2)(92,2.38)(97,1.8)(104,0.6)(109,-0.5)(114,-1.4)(117,-1.8)(120,-1.97)(124,-1.6)(129,-0.8)(134.8,0.05)(142,0.5)(150,0.8)}
{(-10,0.04)(10,0.02)(20,-0.05)(28.6,-0.1)(32,0.2)(36,0.9)(40,1.23)(44,0.6)(49,-0.4)(53,-1.0)(57.4,-1.2)(62,-0.9)(65,-0.5)(68,-0.37)(71,-0.5)(74,-0.69)(78,0.0)(81.7,1.1)(86,2.1)(89,2.32)(93,2.1)(97,1.6)(101,1.1)(106,0.2)(110,-0.56)(115,-1.1)(121,-1.33)(128,-1.2)(134.8,-0.69)(142,-0.1)(150,0.53)}

\panel{1}{7}{-1.13}{1.18}{-1,0,1}{6}{{S}{WUS.00}{12.5}{324}{65}}
{(-10,0.03)(5,0.03)(11,0.0)(15,-0.15)(18.4,-0.27)(22,-0.05)(26,0.3)(29.4,0.5)(33,0.2)(37.5,-0.09)(41,0.1)(45.6,0.18)(50,-0.2)(54,-0.75)(57.8,-1.0)(61,-0.6)(64,0.3)(68.7,1.1)(72,0.7)(76,0.0)(81,-0.3)(86,-0.33)(92,-0.1)(98,0.3)(103,0.45)(108,0.2)(114.6,-0.3)(120,-0.1)(124.7,0.21)(129,0.0)(133,-0.15)(138,0.2)(143.8,0.65)(148,0.3)(151,-0.03)}
{(-10,0.03)(5,0.03)(11,0.0)(15,-0.15)(18.4,-0.27)(22,-0.05)(26,0.4)(29.4,0.57)(33,0.35)(39.5,0.0)(45,-0.1)(50,-0.25)(54.5,-0.33)(58,-0.2)(62,0.05)(68,0.24)(74,0.1)(80,0.02)(86,-0.02)(92,-0.03)(96,0.2)(100.4,0.39)(105,0.25)(110.5,0.09)(115,-0.02)(120.7,-0.09)(126,-0.12)(130.8,-0.12)(136,-0.05)(141,0.02)(149,0.03)}

\panel{2}{7}{-1.13}{1.18}{-1,0,1}{6}{{S}{WUS.10}{13.6}{324}{65}}
{(-10,0)(0,0.0)(5,0.05)(9,0.03)(13,-0.09)(18,0.0)(23,0.3)(30,0.6)(35,0.2)(38,-0.2)(41.5,-0.5)(45,-0.3)(47.6,0.12)(50,-0.2)(53,-0.7)(56.6,-1.0)(60,-0.5)(63,0.5)(67,1.1)(71,0.7)(75,0.1)(80,-0.1)(85,-0.3)(90,-0.5)(94,-0.3)(98,0.1)(103,0.18)(110.5,0.03)(116,-0.05)(121.5,-0.09)(127,-0.1)(132.9,-0.2)(138,0.3)(143,0.68)(147,0.4)(149,0.15)}
{(-10,0)(30,0.0)(40,-0.05)(45.6,-0.1)(51,-0.2)(57.8,-0.24)(62,0.0)(66,0.4)(69,0.54)(73,0.3)(78,-0.15)(83,-0.2)(88,-0.24)(93.5,-0.42)(99.6,0.05)(103,0.2)(106.5,0.24)(111,0.15)(116.6,0.09)(122,0.0)(128.8,-0.09)(135,0.05)(141.8,0.27)(146,0.2)(149,0.12)}

% ---- notes
\begin{scope}[every node/.style={anchor=base west, inner sep=0, font=\hv\fontsize{11.3}{12}\selectfont}]
\node at (777.2pt,-621.6pt) {Type = SH waves};
\node at (777.2pt,-631.8pt) {Black=Data};
\node at (777.2pt,-642.0pt) {Red=Model};
\node at (777.2pt,-652.2pt) {Y = Displacement(m)};
\node at (792.8pt,-662.4pt) {[0.01Hz 0.036Hz]};
\node at (777.2pt,-672.6pt) {X = Time(s)};
\end{scope}
\end{tikzpicture}
\end{document}
